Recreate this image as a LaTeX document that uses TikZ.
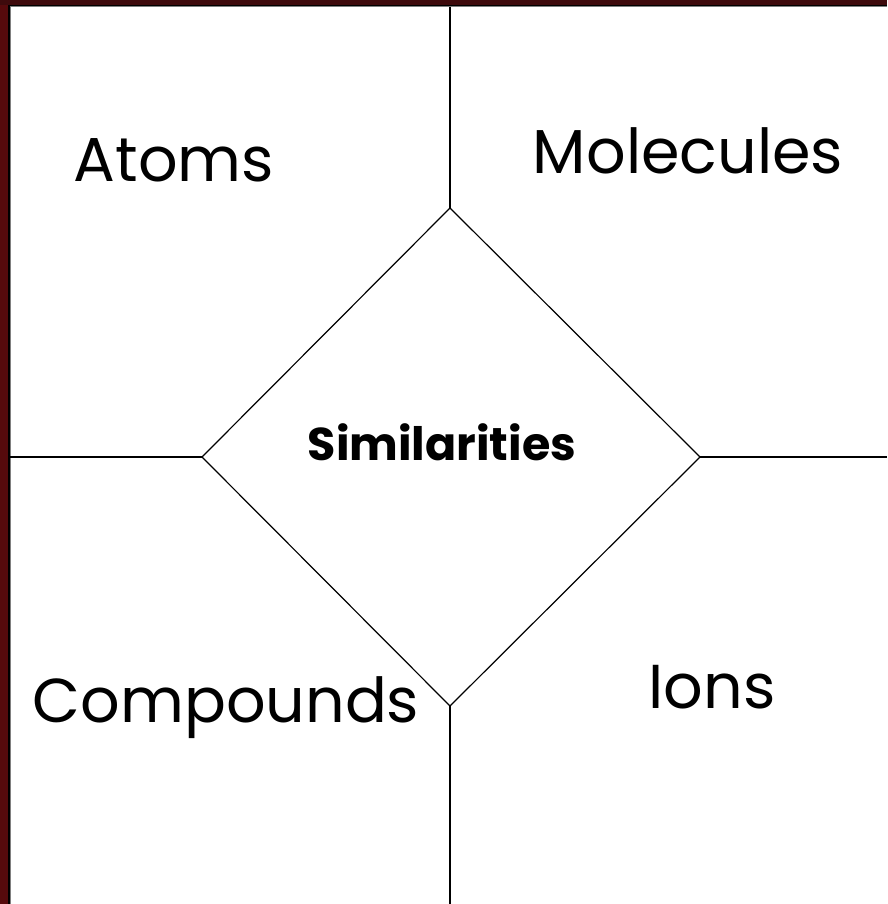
\documentclass[tikz,border=0pt]{standalone}
\usepackage{fontspec}
\setmainfont{Poppins}
\definecolor{frame}{HTML}{560A0C}
\definecolor{frametop}{HTML}{3E0A0C}
\tikzset{
  line/.style={black, line width=1.2pt},
  label/.style={font=\fontsize{62}{70}\selectfont, inner sep=0pt, anchor=base},
}
\begin{document}
\begin{tikzpicture}[x=1pt,y=-1pt]
\useasboundingbox (0,0) rectangle (887,904);
\fill[white] (0,0) rectangle (887,904);
\fill[frame] (0,0) rectangle (8,904);
\fill[frametop] (0,0) rectangle (887,5);
\fill[black] (8,5) rectangle (9.5,904);
\fill[black] (8,5) rectangle (887,6.5);
\fill[gray] (9.5,6.5) rectangle (10.2,904);
\fill[gray] (9.5,6.5) rectangle (887,7.2);
\coordinate (T) at (450,208);
\coordinate (L) at (202,457);
\coordinate (R) at (700,457);
\coordinate (B) at (450,706);
\coordinate (top) at (450,7);
\coordinate (bot) at (450,904);
\coordinate (lft) at (10,457);
\coordinate (rgt) at (887,457);
\draw[line] (T) -- (R) -- (B) -- (L) -- cycle;
\draw[line] (top) -- (T);
\draw[line] (B) -- (bot);
\draw[line] (lft) -- (L);
\draw[line] (R) -- (rgt);
\node[label] (atoms) at (174,182) {Atoms};
\node[label] (mol) at (688,174) {Molecules};
\node[label] (comp) at (226,722) {Compounds};
\node[label] (ions) at (712,708) {Ions};
\node[font=\fontsize{46}{54}\selectfont\bfseries, inner sep=0pt, anchor=base] (sim) at (442,460) {Similarities};
\end{tikzpicture}
\end{document}
